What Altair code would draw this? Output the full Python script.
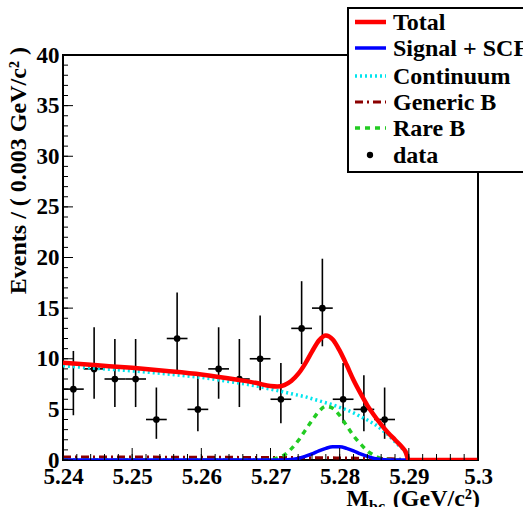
import altair as alt
import pandas as pd

# ---------------- data ----------------
bin_width = 0.003
bin_centers = [5.2415, 5.2445, 5.2475, 5.2505, 5.2535, 5.2565, 5.2595, 5.2625,
               5.2655, 5.2685, 5.2715, 5.2745, 5.2775, 5.2805, 5.2835, 5.2865]
counts = [7, 9, 8, 8, 4, 12, 5, 9, 8, 10, 6, 13, 15, 6, 5, 4]
err_low = [4.42, 6.05, 5.23, 5.23, 2.09, 8.60, 2.84, 6.05, 5.23, 6.89, 3.62,
           9.47, 11.23, 3.62, 2.84, 2.09]
err_high = [10.77, 13.11, 11.95, 11.95, 7.16, 16.54, 8.38, 13.11, 11.95, 14.27,
            9.58, 17.66, 19.88, 9.58, 8.38, 7.16]

curve_x = [5.24, 5.245, 5.25, 5.255, 5.26, 5.265, 5.268, 5.27, 5.271, 5.272,
           5.273, 5.274, 5.275, 5.276, 5.277, 5.278, 5.279, 5.28, 5.281, 5.282,
           5.283, 5.284, 5.285, 5.286, 5.287, 5.288, 5.289, 5.2895, 5.29, 5.295, 5.3]
total = [9.6, 9.35, 9.1, 8.8, 8.45, 7.95, 7.6, 7.3, 7.25, 7.4,
         7.8, 8.5, 9.5, 10.7, 11.8, 12.3, 11.9, 10.8, 9.4, 7.9,
         6.6, 5.4, 4.4, 3.5, 2.7, 2.0, 1.3, 0.85, 0, 0, 0]
signal = [0, 0, 0, 0, 0, 0, 0, 0, 0, 0,
          0.05, 0.15, 0.35, 0.6, 0.9, 1.15, 1.3, 1.3, 1.15, 0.9,
          0.6, 0.35, 0.15, 0.05, 0, 0, 0, 0, 0, 0, 0]
continuum = [9.3, 9.05, 8.8, 8.5, 8.15, 7.65, 7.3, 7.0, 6.85, 6.7,
             6.55, 6.4, 6.25, 6.05, 5.85, 5.65, 5.45, 5.2, 4.95, 4.65,
             4.3, 3.95, 3.55, 3.05, 2.5, 1.8, 1.15, 0.75, 0, 0, 0]
generic = [0.3, 0.3, 0.3, 0.28, 0.28, 0.26, 0.25, 0.25, 0.25, 0.24,
           0.24, 0.23, 0.23, 0.22, 0.22, 0.21, 0.21, 0.2, 0.2, 0.19,
           0.18, 0.17, 0.16, 0.14, 0.12, 0.1, 0.07, 0.05, 0, 0, 0]
rare = [0, 0, 0, 0, 0, 0, 0, 0.05, 0.2, 0.5,
        1.1, 1.9, 2.9, 3.9, 4.8, 5.3, 5.1, 4.4, 3.4, 2.4,
        1.6, 0.9, 0.45, 0.15, 0.05, 0, 0, 0, 0, 0, 0]

x_label_values = [5.24, 5.25, 5.26, 5.27, 5.28, 5.29, 5.3]
y_label_values = [0, 5, 10, 15, 20, 25, 30, 35, 40]
x_minor_ticks = [round(5.24 + 0.002 * i, 4) for i in range(31)]
y_minor_ticks = list(range(0, 41))

legend_labels = ["Total", "Signal + SCF", "Continuum", "Generic B", "Rare B", "data"]

# ---------------- layout ----------------
W, H = 415, 405
FONT = "Liberation Serif"

xs = alt.Scale(domain=[5.24, 5.3], nice=False, zero=False)
ys = alt.Scale(domain=[0, 40], nice=False, zero=False)

pts = pd.DataFrame({"m": bin_centers, "n": counts, "lo": err_low, "hi": err_high})
pts["m_lo"] = pts["m"] - bin_width / 2
pts["m_hi"] = pts["m"] + bin_width / 2

curves = pd.DataFrame({"m": curve_x, "total": total, "signal": signal,
                       "continuum": continuum, "generic": generic, "rare": rare})

X = alt.X("m:Q", scale=xs,
          axis=alt.Axis(values=x_label_values, format=".2~f", title=None,
                        labelPadding=5, labelFlush=False, labelOverlap=False))
Y = alt.Y("n:Q", scale=ys,
          axis=alt.Axis(values=y_label_values, title=None, labelPadding=4))

base_pts = alt.Chart(pts)
vbars = base_pts.mark_rule(color="black", strokeWidth=1.6).encode(
    x=X, y=alt.Y("lo:Q", scale=ys), y2="hi:Q")
hbars = base_pts.mark_rule(color="black", strokeWidth=1.6).encode(
    x=alt.X("m_lo:Q", scale=xs), x2="m_hi:Q", y=Y)
dots = base_pts.mark_circle(color="black", opacity=1, size=45).encode(x=X, y=Y)


def curve(col, color, width, dash=None):
    kw = dict(color=color, strokeWidth=width, interpolate="monotone", clip=True)
    if dash is not None:
        kw["strokeDash"] = dash
    return alt.Chart(curves).mark_line(**kw).encode(
        x=alt.X("m:Q", scale=xs), y=alt.Y(f"{col}:Q", scale=ys))


c_cont = curve("continuum", "#00e5ee", 3.5, [2, 3])
c_gen = curve("generic", "#8b0000", 3, [8, 4, 2, 4])
c_rare = curve("rare", "#22cc22", 3.5, [5, 5])
c_sig = curve("signal", "#0000ff", 3.5)
c_tot = curve("total", "#ff0000", 4.5)

# inward ticks
xt = pd.DataFrame({"v": x_minor_ticks})
xmaj = pd.DataFrame({"v": x_label_values})
yt = pd.DataFrame({"v": y_minor_ticks})
ymaj = pd.DataFrame({"v": y_label_values})
x_minor = alt.Chart(xt).mark_rule(color="black", strokeWidth=1).encode(
    x=alt.X("v:Q", scale=xs), y=alt.value(H), y2=alt.value(H - 6))
x_major = alt.Chart(xmaj).mark_rule(color="black", strokeWidth=1).encode(
    x=alt.X("v:Q", scale=xs), y=alt.value(H), y2=alt.value(H - 12))
y_minor = alt.Chart(yt).mark_rule(color="black", strokeWidth=1).encode(
    y=alt.Y("v:Q", scale=ys), x=alt.value(0), x2=alt.value(5))
y_major = alt.Chart(ymaj).mark_rule(color="black", strokeWidth=1).encode(
    y=alt.Y("v:Q", scale=ys), x=alt.value(0), x2=alt.value(10))

one = pd.DataFrame({"a": [0]})

# axis titles as text
ytitle = alt.Chart(one).mark_text(
    text="Events / ( 0.003 GeV/c\u00b2 )", font=FONT, fontWeight="bold", fontSize=24,
    angle=270, align="right", baseline="middle", color="black").encode(
    x=alt.value(-44), y=alt.value(-8))
xt_M = alt.Chart(one).mark_text(
    text="M", font=FONT, fontWeight="bold", fontSize=24, align="right",
    baseline="alphabetic", color="black").encode(x=alt.value(306), y=alt.value(451))
xt_bc = alt.Chart(one).mark_text(
    text="bc", font=FONT, fontWeight="bold", fontSize=16, align="left",
    baseline="alphabetic", color="black").encode(x=alt.value(306), y=alt.value(457))
xt_unit = alt.Chart(one).mark_text(
    text="(GeV/c\u00b2)", font=FONT, fontWeight="bold", fontSize=24, align="right",
    baseline="alphabetic", color="black").encode(x=alt.value(417), y=alt.value(451))

# legend (drawn by hand, ROOT style)
leg_box = alt.Chart(one).mark_rect(fill="white", stroke="black", strokeWidth=2).encode(
    x=alt.value(285), x2=alt.value(480), y=alt.value(-47), y2=alt.value(117))
leg_y = [-33, -7, 21, 47, 73, 100]
leg_styles = [("#ff0000", 4.5, None), ("#0000ff", 3.5, None), ("#00e5ee", 3.5, [2, 3]),
              ("#8b0000", 3, [8, 4, 2, 4]), ("#22cc22", 3.5, [5, 5])]
leg_layers = [leg_box]
for i, (col, wdt, dash) in enumerate(leg_styles):
    kw = dict(color=col, strokeWidth=wdt)
    if dash is not None:
        kw["strokeDash"] = dash
    leg_layers.append(alt.Chart(one).mark_rule(**kw).encode(
        x=alt.value(292), x2=alt.value(323), y=alt.value(leg_y[i])))
leg_layers.append(alt.Chart(one).mark_circle(color="black", opacity=1, size=40).encode(
    x=alt.value(307), y=alt.value(leg_y[5])))
for i, lab in enumerate(legend_labels):
    leg_layers.append(alt.Chart(one).mark_text(
        text=lab, font=FONT, fontWeight="bold", fontSize=24, align="left",
        baseline="middle", color="black").encode(x=alt.value(330), y=alt.value(leg_y[i] + 1)))

chart = alt.layer(
    vbars, hbars, dots, c_cont, c_gen, c_rare, c_sig, c_tot,
    x_minor, x_major, y_minor, y_major,
    ytitle, xt_M, xt_bc, xt_unit, *leg_layers
).properties(
    width=W, height=H,
    autosize=alt.AutoSizeParams(type="none"),
    padding={"left": 63, "top": 55, "right": 45, "bottom": 47},
    background="white",
).configure_view(
    stroke="black", strokeWidth=2
).configure_axis(
    domain=False, ticks=False, grid=False,
    labelFont=FONT, labelFontWeight="bold", labelFontSize=23, labelColor="black"
)

chart.save("out.html", embed_options={"renderer": "svg", "actions": False})
